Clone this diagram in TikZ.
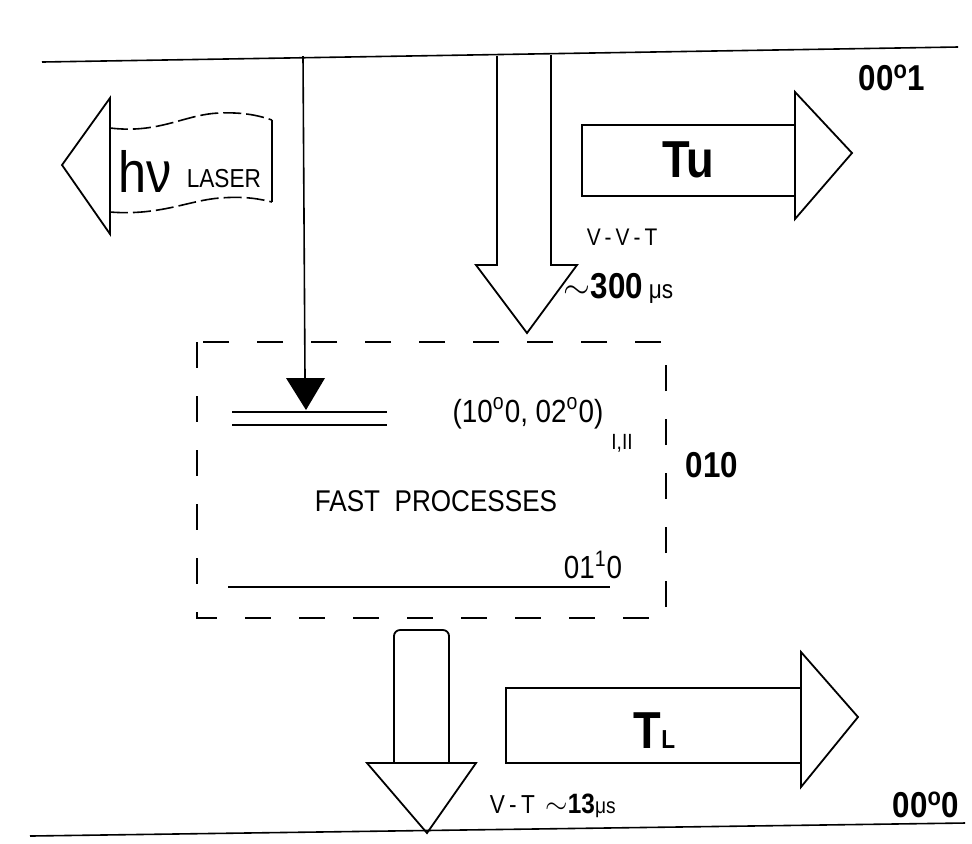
\documentclass[tikz,border=0pt]{standalone}
\usepackage{fontspec}
\setmainfont{Liberation Sans}[FakeStretch=0.87]
\begin{document}
\begin{tikzpicture}[
    x=0.5pt, y=-0.5pt,
    line width=0.8pt,
    level_line/.style={line width=0.7pt},
    block_arrow/.style={line width=0.9pt, line join=miter},
    box_dash/.style={line width=0.9pt, dash pattern=on 13pt off 14pt},
    wave_dash/.style={line width=0.8pt, dash pattern=on 9pt off 2.5pt},
    lbl/.style={inner sep=0pt, font=\fontsize{#1}{#1}\selectfont},
    bold_lbl/.style={inner sep=0pt, font=\bfseries\fontsize{#1}{#1}\selectfont}
]
\useasboundingbox (0,0) rectangle (972,843);
% upper and ground levels
\coordinate (top_l) at (42,62);
\coordinate (top_r) at (958,47);
\coordinate (bot_l) at (30,836);
\coordinate (bot_r) at (965,823);
\draw (top_l) -- (top_r);
\draw (bot_l) -- (bot_r);
\node[bold_lbl=18pt] (lev001) at (892,78) {00\textsuperscript{o}1};
\node[bold_lbl=18pt] (lev000) at (926,805) {00\textsuperscript{o}0};
% laser photon leaving the upper level
\draw[block_arrow] (110,98) -- (62,165) -- (110,234) -- cycle;
\draw[wave_dash] (110,128) .. controls (160,134) and (185,114) .. (220,113)
    .. controls (245,112) and (260,116) .. (272,120);
\draw[wave_dash] (110,212) .. controls (160,216) and (190,200) .. (220,198)
    .. controls (245,196) and (260,199) .. (272,202);
\draw (272,120) -- (272,202);
\node[lbl=29pt, anchor=base west] (hnu) at (118,192) {hν};
\node[lbl=13pt, anchor=base west] (laser) at (186,187) {LASER};
% pumping into the (10^0 0, 02^0 0) pair
\coordinate (pump_top) at (303,56);
\coordinate (pump_end) at (305,378);
\draw (pump_top) -- (pump_end);
\fill (286,378) -- (325,378) -- (306,410) -- cycle;
% V-V-T relaxation arrow
\draw[block_arrow] (497,56) -- (497,265) -- (476,265) -- (527,333)
    -- (577,265) -- (551,265) -- (551,55);
\node[lbl=12pt] (vvt) at (622,237) {V\,-\,V\,-\,T};
\node[bold_lbl=18pt, anchor=west] (t300) at (563,288)
    {$\sim$300\,{\mdseries\fontsize{13pt}{13pt}\selectfont μs}};
% upper temperature
\draw[block_arrow] (795,125) -- (582,125) -- (582,196) -- (795,196);
\draw[block_arrow] (795,92) -- (852,153) -- (795,219) -- cycle;
\node[bold_lbl=26pt] (tu) at (688,160) {Tu};
% fast processes inside the 010 manifold
\draw[box_dash] (197,342) rectangle (666,618);
\draw[level_line] (232,412) -- (387,412);
\draw[level_line] (232,425) -- (387,425);
\draw[level_line] (228,587) -- (610,587);
\node[lbl=16pt] (fermi) at (528,413) {(10\textsuperscript{o}0, 02\textsuperscript{o}0)};
\node[lbl=11pt] (fermi_idx) at (622,443) {I,II};
\node[lbl=15pt] (fast) at (436,501) {FAST\ \ PROCESSES};
\node[lbl=16pt] (lev0110) at (593,565) {01\textsuperscript{1}0};
\node[bold_lbl=18pt] (lev010) at (712,465) {010};
% V-T relaxation arrow
\draw[block_arrow, rounded corners=3pt] (394,763) -- (394,630) -- (449,630) -- (449,763);
\draw[block_arrow] (367,763) -- (476,763) -- (427,833) -- cycle;
\node[lbl=13pt, anchor=west] (vt) at (489,806)
    {V\,-\,T\, {\bfseries\fontsize{14pt}{14pt}\selectfont$\sim$13}{\fontsize{11pt}{11pt}\selectfont μs}};
% lower temperature
\draw[block_arrow] (801,688) -- (506,688) -- (506,763) -- (801,763);
\draw[block_arrow] (801,652) -- (858,717) -- (801,787) -- cycle;
\node[bold_lbl=26pt, anchor=base west] (tl) at (633,748) {T{\fontsize{13pt}{13pt}\selectfont L}};
\end{tikzpicture}
\end{document}
